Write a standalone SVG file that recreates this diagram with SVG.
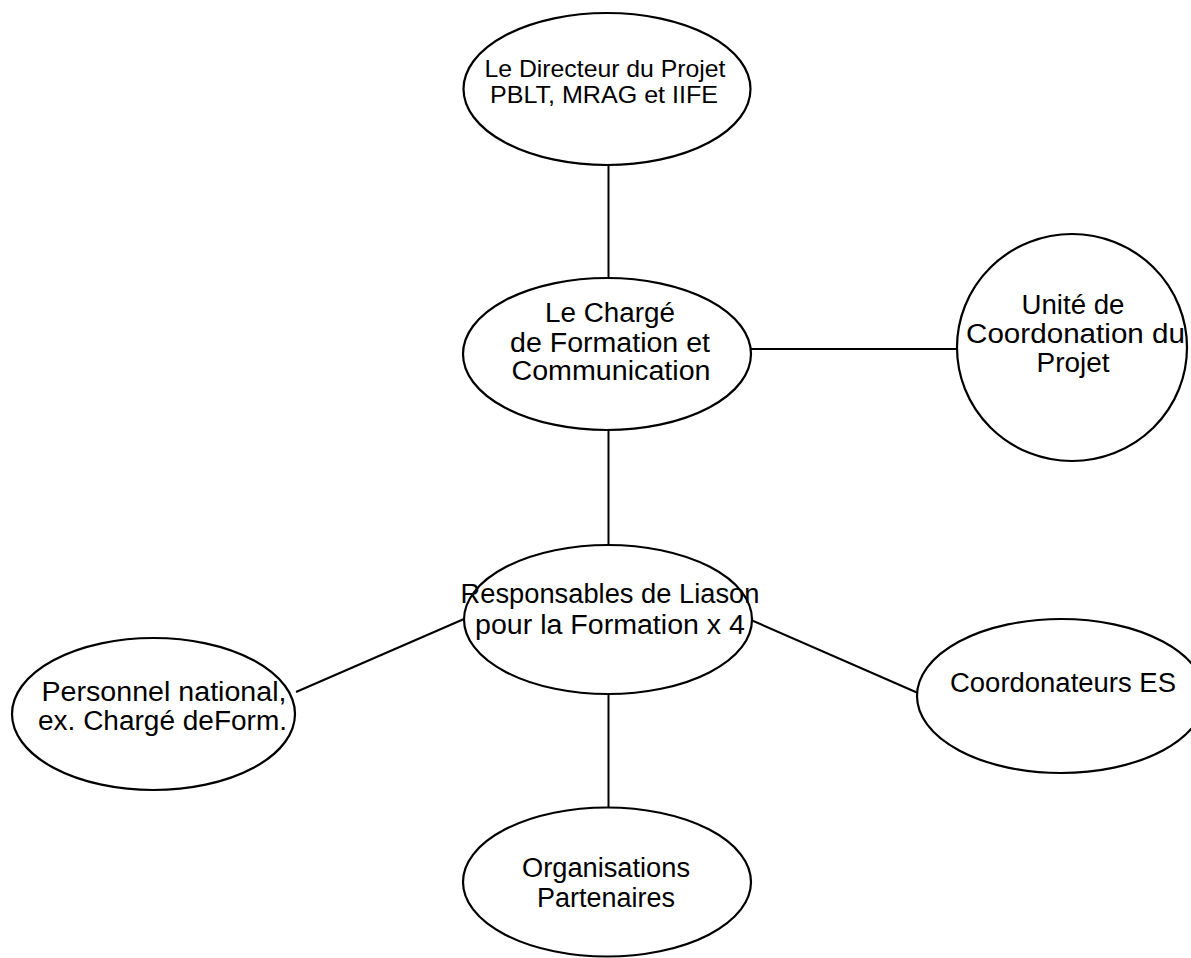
<svg xmlns="http://www.w3.org/2000/svg" width="1191" height="958" viewBox="0 0 1191 958">
<style>
.n{fill:#fff;stroke:#000;stroke-width:2.2}
.c line{stroke:#000;stroke-width:2}
text{font-family:"Liberation Sans",Arial,sans-serif;font-size:27px;fill:#000;text-anchor:middle}
.s{font-size:24px}
</style>
<rect width="1191" height="958" fill="#fff"/>
<g class="c" id="connectors">
<line x1="608.5" y1="165" x2="608.5" y2="278"/>
<line x1="608.5" y1="430" x2="608.5" y2="545"/>
<line x1="751" y1="349" x2="958" y2="349"/>
<line x1="608.5" y1="694" x2="608.5" y2="808"/>
<line x1="464" y1="619" x2="296" y2="692"/>
<line x1="751" y1="620" x2="918" y2="693"/>
</g>
<g id="directeur">
<ellipse class="n" cx="607" cy="89" rx="143.5" ry="76"/>
<text class="s" x="605" y="77" textLength="241" lengthAdjust="spacingAndGlyphs">Le Directeur du Projet</text>
<text class="s" x="604" y="103" textLength="228" lengthAdjust="spacingAndGlyphs">PBLT, MRAG et IIFE</text>
</g>
<g id="charge">
<ellipse class="n" cx="607" cy="354" rx="144" ry="76"/>
<text x="610" y="322" textLength="130" lengthAdjust="spacingAndGlyphs">Le Chargé</text>
<text x="610" y="352" textLength="200" lengthAdjust="spacingAndGlyphs">de Formation et</text>
<text x="611" y="380" textLength="199" lengthAdjust="spacingAndGlyphs">Communication</text>
</g>
<g id="unite">
<ellipse class="n" cx="1072" cy="347.5" rx="115" ry="113.5"/>
<text x="1073" y="314" textLength="103" lengthAdjust="spacingAndGlyphs">Unité de</text>
<text x="1075.5" y="343" textLength="219" lengthAdjust="spacingAndGlyphs">Coordonation du</text>
<text x="1073" y="371.5" textLength="73" lengthAdjust="spacingAndGlyphs">Projet</text>
</g>
<g id="responsables">
<ellipse class="n" cx="608" cy="619.5" rx="144" ry="74.5"/>
<text x="610" y="603" textLength="299" lengthAdjust="spacingAndGlyphs">Responsables de Liason</text>
<text x="610" y="634" textLength="270" lengthAdjust="spacingAndGlyphs">pour la Formation x 4</text>
</g>
<g id="personnel">
<ellipse class="n" cx="153.5" cy="714" rx="141.5" ry="76"/>
<text x="164" y="700.5" textLength="245" lengthAdjust="spacingAndGlyphs">Personnel national,</text>
<text x="162.5" y="730" textLength="249" lengthAdjust="spacingAndGlyphs">ex. Chargé deForm.</text>
</g>
<g id="coordonateurs">
<ellipse class="n" cx="1061" cy="696" rx="144" ry="77"/>
<text x="1063" y="691.5" textLength="226" lengthAdjust="spacingAndGlyphs">Coordonateurs ES</text>
</g>
<g id="organisations">
<ellipse class="n" cx="607" cy="882" rx="144" ry="74.5"/>
<text x="606" y="877" textLength="168" lengthAdjust="spacingAndGlyphs">Organisations</text>
<text x="606" y="906.5" textLength="138" lengthAdjust="spacingAndGlyphs">Partenaires</text>
</g>
</svg>
